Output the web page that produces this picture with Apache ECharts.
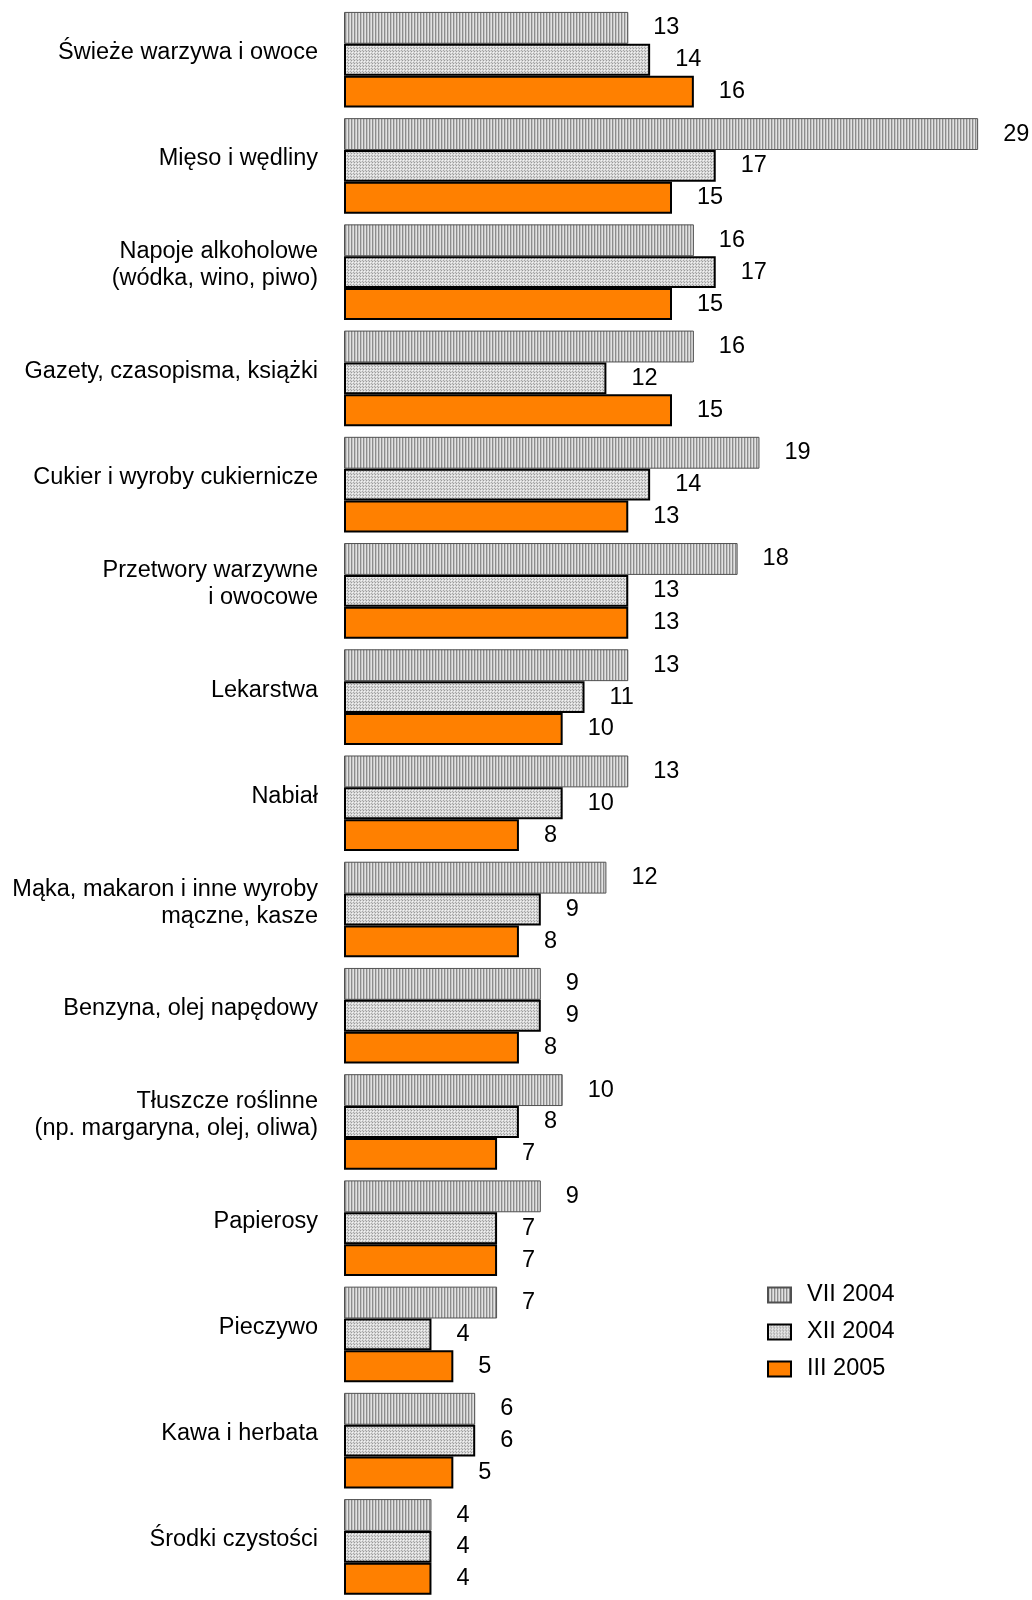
<!DOCTYPE html>
<html>
<head>
<meta charset="utf-8">
<script src="https://cdn.jsdelivr.net/npm/echarts@6/dist/echarts.min.js"></script>
<style>
html,body{margin:0;padding:0;background:#fff;}
#chart{width:1032px;height:1600px;}
</style>
</head>
<body>
<div id="chart"></div>
<script>
var categories = [
  "Świeże warzywa i owoce",
  "Mięso i wędliny",
  "Napoje alkoholowe\n(wódka, wino, piwo)",
  "Gazety, czasopisma, książki",
  "Cukier i wyroby cukiernicze",
  "Przetwory warzywne\ni owocowe",
  "Lekarstwa",
  "Nabiał",
  "Mąka, makaron i inne wyroby\nmączne, kasze",
  "Benzyna, olej napędowy",
  "Tłuszcze roślinne\n(np. margaryna, olej, oliwa)",
  "Papierosy",
  "Pieczywo",
  "Kawa i herbata",
  "Środki czystości"
];
var seriesNames = ["VII 2004", "XII 2004", "III 2005"];
var vii2004 = [13, 29, 16, 16, 19, 18, 13, 13, 12, 9, 10, 9, 7, 6, 4];
var xii2004 = [14, 17, 17, 12, 14, 13, 11, 10, 9, 9, 8, 7, 4, 6, 4];
var iii2005 = [16, 15, 15, 15, 13, 13, 10, 8, 8, 8, 7, 7, 5, 5, 4];

function stripeCanvas() {
  var c = document.createElement('canvas');
  c.width = 3; c.height = 3;
  var g = c.getContext('2d');
  g.fillStyle = '#e2e2e2'; g.fillRect(0, 0, 3, 3);
  g.fillStyle = '#8c8c8c'; g.fillRect(0, 0, 1, 3);
  g.fillStyle = '#c4c4c4'; g.fillRect(1, 0, 1, 3);
  return c;
}
function dotCanvas() {
  var c = document.createElement('canvas');
  c.width = 3; c.height = 3;
  var g = c.getContext('2d');
  g.fillStyle = '#d8d8d8'; g.fillRect(0, 0, 3, 3);
  g.fillStyle = '#9a9a9a'; g.fillRect(0, 0, 1, 1);
  g.fillStyle = '#f4f4f4'; g.fillRect(1, 1, 1, 1);
  g.fillStyle = '#a8a8a8'; g.fillRect(2, 2, 1, 1);
  return c;
}
var stripePattern = { image: stripeCanvas(), repeat: 'repeat' };
var dotPattern = { image: dotCanvas(), repeat: 'repeat' };

var FONT = 'Liberation Sans, Arial, sans-serif';
var labelCfg = {
  show: true, position: 'right', distance: 25,
  color: '#000', fontSize: 23.5, fontFamily: FONT
};

var chart = echarts.init(document.getElementById('chart'), null, { renderer: 'canvas' });
chart.setOption({
  animation: false,
  backgroundColor: '#fff',
  grid: { left: 344, right: 32, top: 6.6, bottom: -7.2, containLabel: false },
  legend: {
    orient: 'vertical', left: 762, top: 1278,
    icon: 'rect',
    itemWidth: 23, itemHeight: 15, itemGap: 13,
    textStyle: { color: '#000', fontSize: 23.5, fontFamily: FONT, lineHeight: 24, padding: [0, 0, 0, 11] },
    data: seriesNames
  },
  xAxis: {
    type: 'value', min: 0, max: 30, show: false
  },
  yAxis: {
    type: 'category', inverse: true, data: categories,
    axisLine: { show: false }, axisTick: { show: false },
    axisLabel: {
      color: '#000', fontSize: 23.5, fontFamily: FONT, lineHeight: 27,
      margin: 26, align: 'right',
      formatter: function (v) { return v + '\n{s| }'; },
      rich: { s: { fontSize: 10, lineHeight: 14 } }
    }
  },
  series: [
    {
      name: seriesNames[0], type: 'bar', data: vii2004,
      barGap: '0%', barCategoryGap: '10%',
      itemStyle: { color: stripePattern, borderColor: '#505050', borderWidth: 1 },
      label: labelCfg
    },
    {
      name: seriesNames[1], type: 'bar', data: xii2004,
      barGap: '0%', barCategoryGap: '10%',
      itemStyle: { color: dotPattern, borderColor: '#000', borderWidth: 2 },
      label: labelCfg
    },
    {
      name: seriesNames[2], type: 'bar', data: iii2005,
      barGap: '0%', barCategoryGap: '10%',
      itemStyle: { color: '#FF8000', borderColor: '#000', borderWidth: 2 },
      label: labelCfg
    }
  ]
});
</script>
</body>
</html>
